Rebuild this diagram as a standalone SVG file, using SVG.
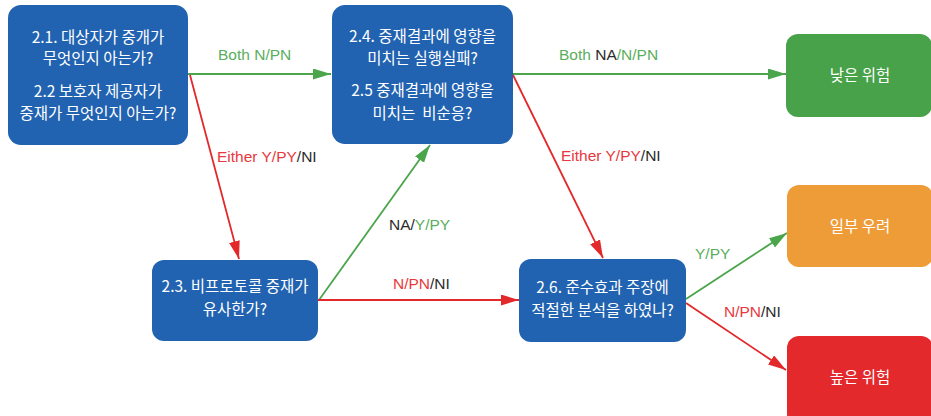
<svg xmlns="http://www.w3.org/2000/svg" width="931" height="416" viewBox="0 0 931 416">
<style>
.nt{font-family:"Noto Sans CJK KR","Noto Sans",sans-serif;font-size:15.5px;fill:#ffffff;text-anchor:middle}
.lb{font-family:"Liberation Sans","Noto Sans CJK KR",sans-serif;font-size:15.5px}
.g{fill:#5aae5c}.r{fill:#e8383d}.k{fill:#2b2b2b}
.blue{fill:#2163b0}
.gl{stroke:#4ba54b;stroke-width:1.8;fill:none}
.rl{stroke:#e3282b;stroke-width:1.8;fill:none}
</style>
<defs>
<marker id="ag" markerUnits="userSpaceOnUse" markerWidth="18" markerHeight="12" refX="18" refY="5.5" orient="auto"><path d="M0,0 L18,5.5 L0,11 z" fill="#4ba54b"/></marker>
<marker id="ar" markerUnits="userSpaceOnUse" markerWidth="18" markerHeight="12" refX="18" refY="5.5" orient="auto"><path d="M0,0 L18,5.5 L0,11 z" fill="#e3282b"/></marker>
</defs>
<rect width="931" height="416" fill="#ffffff"/>
<g id="connectors">
<line class="gl" x1="188" y1="74" x2="331" y2="74" marker-end="url(#ag)"/>
<line class="rl" x1="190" y1="75" x2="239" y2="259" marker-end="url(#ar)"/>
<line class="gl" x1="319" y1="300" x2="430" y2="145" marker-end="url(#ag)"/>
<line class="rl" x1="318" y1="300" x2="519" y2="300" marker-end="url(#ar)"/>
<line class="gl" x1="513" y1="74" x2="786" y2="74" marker-end="url(#ag)"/>
<line class="rl" x1="513" y1="75" x2="603" y2="258" marker-end="url(#ar)"/>
<line class="gl" x1="686" y1="299" x2="787" y2="233" marker-end="url(#ag)"/>
<line class="rl" x1="686" y1="303" x2="786" y2="370" marker-end="url(#ar)"/>
<text class="lb g" x="218" y="60">Both N/PN</text>
<text class="lb" x="217" y="162"><tspan class="r">Either Y/PY</tspan><tspan class="k">/NI</tspan></text>
<text class="lb" x="389" y="230"><tspan class="k">NA/</tspan><tspan class="g">Y/PY</tspan></text>
<text class="lb" x="393" y="289"><tspan class="r">N/PN</tspan><tspan class="k">/NI</tspan></text>
<text class="lb" x="559" y="60"><tspan class="g">Both </tspan><tspan class="k">NA</tspan><tspan class="g">/N/PN</tspan></text>
<text class="lb" x="561" y="161"><tspan class="r">Either Y/PY</tspan><tspan class="k">/NI</tspan></text>
<text class="lb g" x="695" y="259">Y/PY</text>
<text class="lb" x="724" y="317"><tspan class="r">N/PN</tspan><tspan class="k">/NI</tspan></text>
</g>
<g id="n21">
<rect class="blue" x="8" y="5" width="180" height="140" rx="13"/>
<text class="nt" x="98" y="43">2.1. 대상자가 중개가</text>
<text class="nt" x="98" y="64">무엇인지 아는가?</text>
<text class="nt" x="98" y="97">2.2 보호자 제공자가</text>
<text class="nt" x="98" y="119">중재가 무엇인지 아는가?</text>
</g>
<g id="n24">
<rect class="blue" x="332" y="5" width="181" height="139" rx="13"/>
<text class="nt" x="422.5" y="42">2.4. 중재결과에 영향을</text>
<text class="nt" x="422.5" y="64">미치는 실행실패?</text>
<text class="nt" x="422.5" y="96">2.5 중재결과에 영향을</text>
<text class="nt" x="422.5" y="119">미치는&#160; 비순응?</text>
</g>
<g id="n23">
<rect class="blue" x="152" y="260" width="166" height="81" rx="12"/>
<text class="nt" x="235" y="292">2.3. 비프로토콜 중재가</text>
<text class="nt" x="235" y="315">유사한가?</text>
</g>
<g id="n26">
<rect class="blue" x="519" y="259" width="167" height="83" rx="12"/>
<text class="nt" x="602.5" y="293">2.6. 준수효과 주장에</text>
<text class="nt" x="602.5" y="316">적절한 분석을 하였나?</text>
</g>
<g id="low">
<rect x="786" y="34" width="146" height="83" rx="12" fill="#48a249"/>
<text class="nt" x="860" y="81">낮은 위험</text>
</g>
<g id="some">
<rect x="787" y="185" width="146" height="82" rx="12" fill="#ee9c38"/>
<text class="nt" x="860" y="232">일부 우려</text>
</g>
<g id="high">
<rect x="787" y="336" width="146" height="90" rx="12" fill="#e3292c"/>
<text class="nt" x="860" y="383">높은 위험</text>
</g>
</svg>
